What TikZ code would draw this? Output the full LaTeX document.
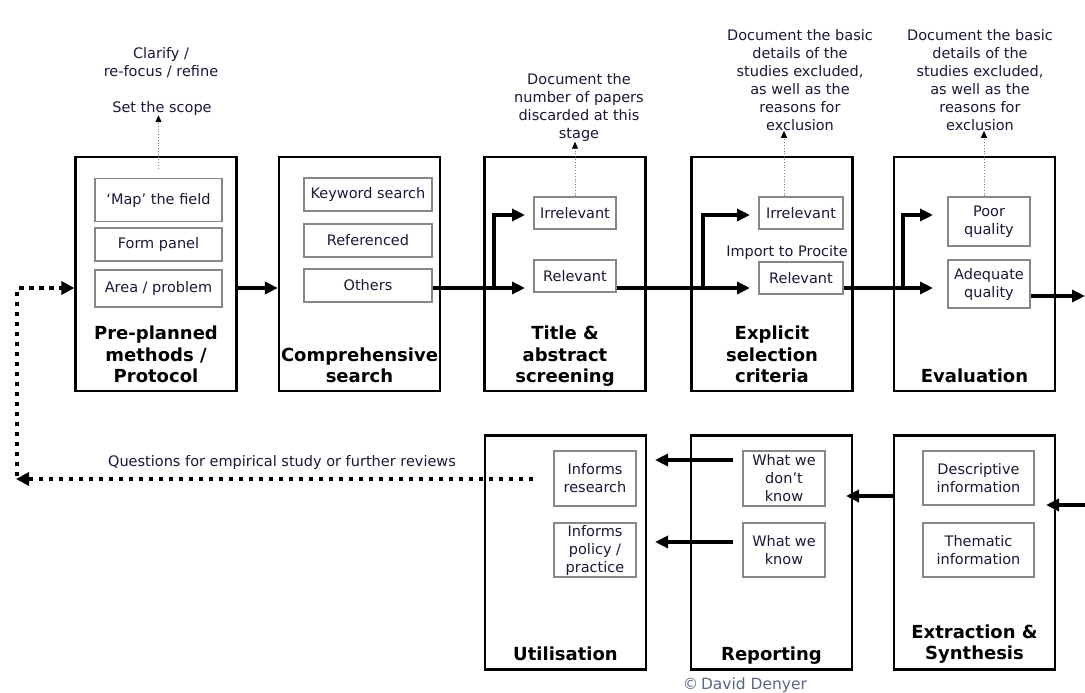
\documentclass[tikz,border=0pt]{standalone}
\usepackage{fontspec}
\setmainfont{DejaVu Sans}
\usetikzlibrary{arrows.meta}
\definecolor{txt}{RGB}{25,25,55}
\definecolor{ibord}{RGB}{135,135,135}
\definecolor{copyc}{RGB}{90,105,128}
\begin{document}
\begin{tikzpicture}[x=1pt,y=-1pt,
  stage/.style={draw=black,line width=2.2pt,minimum width=161pt,minimum height=234pt,inner sep=0pt},
  item/.style={draw=ibord,line width=1.8pt,inner sep=0pt,align=center,text=txt,font=\fontsize{14.5}{18}\selectfont},
  ttl/.style={font=\fontsize{18}{21.5}\selectfont\bfseries,align=center,anchor=south,text depth=0pt,inner sep=0pt},
  note/.style={text=txt,font=\fontsize{14.5}{18}\selectfont,align=center,inner sep=0pt},
  flow/.style={line width=3.5pt,-{Triangle[length=13pt,width=12pt]}},
  noteline/.style={draw=gray,line width=0.8pt,dotted,-{Triangle[length=7pt,width=6pt,color=black,fill=black]}},
  fb/.style={line width=4pt,dash pattern=on 4.5pt off 5.5pt,-{Triangle[length=13pt,width=13pt]}}
]
\fill[white] (0,0) rectangle (1085,693);
\useasboundingbox (0,0) rectangle (1085,693);

% stage boxes
\node[stage] (b1) at (156,274) {};
\node[stage] (b2) at (359.5,274) {};
\node[stage] (b3) at (565,274) {};
\node[stage] (b4) at (772,274) {};
\node[stage] (b5) at (974.5,274) {};
\node[stage] (b6) at (565.5,552.5) {};
\node[stage] (b7) at (771.5,552.5) {};
\node[stage] (b8) at (974.5,552.5) {};

% titles
\node[ttl] (t1) at (156,383) {Pre-planned\\methods /\\Protocol};
\node[ttl] (t2) at (359.5,383) {Comprehensive\\search};
\node[ttl] (t3) at (565,383) {Title \&\\abstract\\screening};
\node[ttl] (t4) at (772,383) {Explicit\\selection\\criteria};
\node[ttl] (t5) at (974.5,383) {Evaluation};
\node[ttl] (t6) at (565.5,661) {Utilisation};
\node[ttl] (t7) at (771.5,661) {Reporting};
\node[ttl] (t8) at (974.5,660) {Extraction \&\\Synthesis};

% inner items
\node[item,minimum width=127pt,minimum height=43pt] (map) at (158.5,200) {`Map' the field};
\node[item,minimum width=127pt,minimum height=33pt] (form) at (158.5,244.5) {Form panel};
\node[item,minimum width=127pt,minimum height=37pt] (area) at (158.5,288.5) {Area / problem};
\node[item,minimum width=128pt,minimum height=33pt] (kw) at (368,194.5) {Keyword search};
\node[item,minimum width=128pt,minimum height=33pt] (refd) at (368,240.5) {Referenced};
\node[item,minimum width=128pt,minimum height=33pt] (oth) at (368,285.5) {Others};
\node[item,minimum width=82pt,minimum height=32pt] (irr3) at (575,213) {Irrelevant};
\node[item,minimum width=82pt,minimum height=32pt] (rel3) at (575,276) {Relevant};
\node[item,minimum width=84pt,minimum height=32pt] (irr4) at (801,213) {Irrelevant};
\node[item,minimum width=84pt,minimum height=32pt] (rel4) at (801,278) {Relevant};
\node[item,minimum width=82pt,minimum height=49pt] (poor) at (989,221.5) {Poor\\quality};
\node[item,minimum width=82pt,minimum height=48pt] (adeq) at (989,284) {Adequate\\quality};
\node[item,minimum width=111pt,minimum height=54pt] (desc) at (978.5,478) {Descriptive\\information};
\node[item,minimum width=111pt,minimum height=54pt] (them) at (978.5,550) {Thematic\\information};
\node[item,minimum width=82pt,minimum height=55pt] (dont) at (784,478.5) {What we\\don't\\know};
\node[item,minimum width=82pt,minimum height=54pt] (know) at (784,550) {What we\\know};
\node[item,minimum width=82pt,minimum height=55pt] (res) at (595,478.5) {Informs\\research};
\node[item,minimum width=82pt,minimum height=54pt] (pol) at (595,550) {Informs\\policy /\\practice};

% notes
\node[note] (clar) at (161,63) {Clarify /\\re-focus / refine};
\node[note] (scope) at (162,108) {Set the scope};
\node[note] (n3) at (579,107.5) {Document the\\number of papers\\discarded at this\\stage};
\node[note] (n4) at (800,80) {Document the basic\\details of the\\studies excluded,\\as well as the\\reasons for\\exclusion};
\node[note] (n5) at (980,80) {Document the basic\\details of the\\studies excluded,\\as well as the\\reasons for\\exclusion};
\node[note] (imp) at (787,252) {Import to Procite};
\node[note] (q) at (282,462) {Questions for empirical study or further reviews};
\node[note,text=copyc,font=\fontsize{15.5}{18}\selectfont] (copy) at (745,685) {\textcopyright\,David Denyer};

% note arrows
\draw[noteline] ([yshift=9pt]map.north) -- (map.north |- scope.south);
\draw[noteline] (irr3.north) -- (irr3.north |- n3.south);
\draw[noteline] ([xshift=-17pt]irr4.north) -- ([xshift=-17pt]irr4.north |- n4.south);
\draw[noteline] ([xshift=-5pt]poor.north) -- ([xshift=-5pt]poor.north |- n5.south);

% main flow
\coordinate (r3) at (525,288);
\coordinate (j3) at (494,288);
\coordinate (u3) at (525,215);
\coordinate (r4) at (750,288);
\coordinate (j4) at (703,288);
\coordinate (u4) at (750,215);
\coordinate (r5) at (933,288);
\coordinate (j5) at (903,288);
\coordinate (u5) at (933,215);
\coordinate (o5) at (1085,296);
\draw[flow] (b1.east |- r3) -- (b2.west |- r3);
\draw[flow] (oth.east |- r3) -- (r3);
\draw[flow] (j3) |- (u3);
\draw[flow] (rel3.east |- r4) -- (r4);
\draw[flow] (j4) |- (u4);
\draw[flow] (rel4.east |- r5) -- (r5);
\draw[flow] (j5) |- (u5);
\draw[flow] (adeq.east |- o5) -- (o5);

% bottom flow
\coordinate (i8) at (1085,505);
\coordinate (e8) at (1046,505);
\coordinate (e7) at (846,496);
\coordinate (a1) at (733,460);
\coordinate (a1e) at (655,460);
\coordinate (a2) at (733,542);
\coordinate (a2e) at (655,542);
\draw[flow] (i8) -- (e8);
\draw[flow] (b8.west |- e7) -- (e7);
\draw[flow] (a1) -- (a1e);
\draw[flow] (a2) -- (a2e);

% feedback
\coordinate (fs) at (533,479);
\coordinate (fc) at (16,479);
\coordinate (fv) at (17,476);
\draw[fb] (fs) -- (fc);
\draw[fb] (fv) |- (b1.west |- r3);
\end{tikzpicture}
\end{document}
